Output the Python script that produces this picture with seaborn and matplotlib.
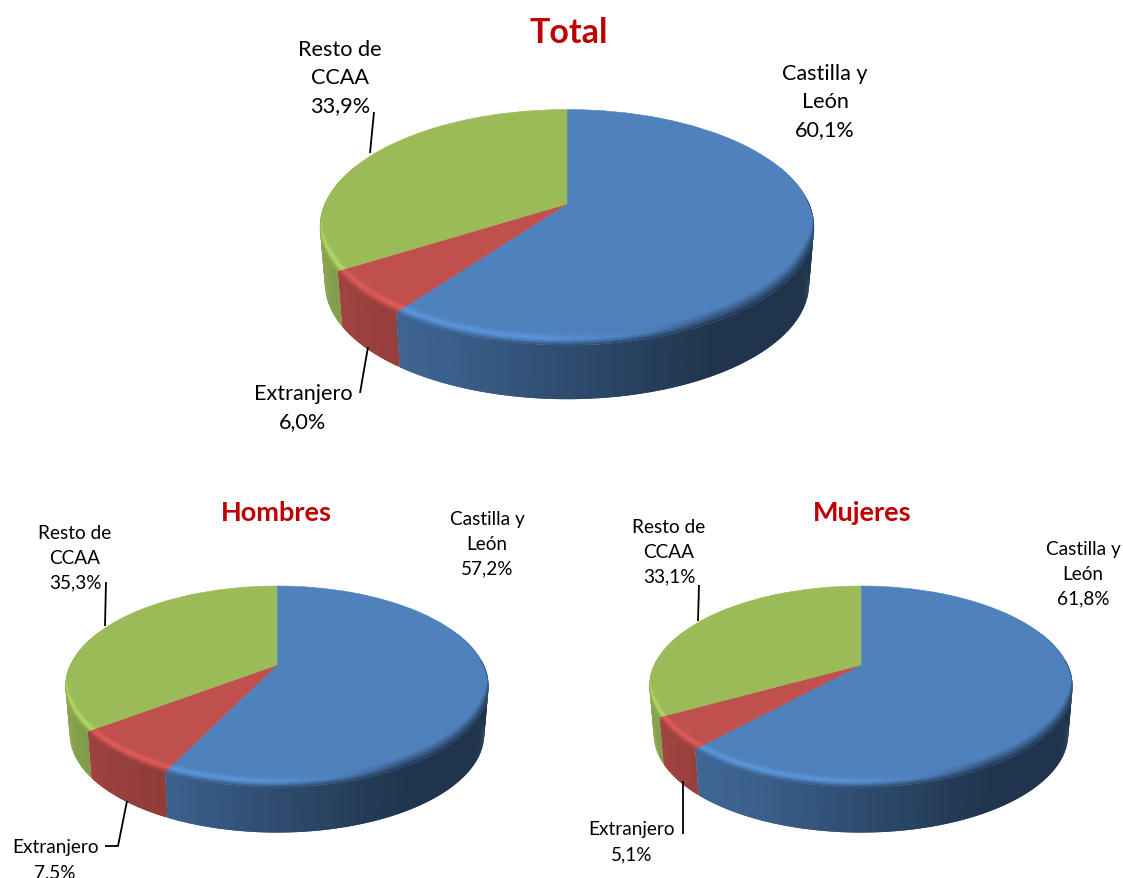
import numpy as np
import matplotlib
matplotlib.use("Agg")
import matplotlib.pyplot as plt
import matplotlib.transforms as mtransforms
from matplotlib.collections import PolyCollection
import seaborn as sns

categories = ["Castilla y\nLeón", "Extranjero", "Resto de\nCCAA"]
total_values = [60.1, 6.0, 33.9]
hombres_values = [57.2, 7.5, 35.3]
mujeres_values = [61.8, 5.1, 33.1]
titles = ["Total", "Hombres", "Mujeres"]
colors = ["#4F81BD", "#C0504D", "#9BBB59"]

sns.set_theme(style="white")
plt.rcParams["font.family"] = ["Lato", "DejaVu Sans"]
palette = np.array(sns.color_palette(colors))

W, H = 1123, 879


class Perspective(mtransforms.Transform):
    """Tilted disc: unit circle -> pixel coordinates of the axes."""
    input_dims = 2
    output_dims = 2
    is_separable = False
    has_inverse = False

    def __init__(self, cx, cy, up, down, half_width, dy=0.0, scale=1.0):
        super().__init__()
        self.k = (down - up) / (down + up)
        self.a = up * (1 + self.k)
        self.b = half_width * np.sqrt(1 - self.k ** 2)
        self.cx, self.cy, self.dy, self.scale = cx, cy, dy, scale

    def transform_non_affine(self, xy):
        xy = np.asarray(xy, dtype=float)
        d = 1 + self.k * xy[:, 1]
        return np.column_stack([
            self.cx + self.scale * self.b * xy[:, 0] / d,
            self.cy + self.dy - self.scale * self.a * xy[:, 1] / d,
        ])


def unit(theta, r=1.0):
    return np.column_stack([r * np.sin(theta), r * np.cos(theta)])


def wall_shade(x):
    return np.interp(x, [-1, -0.7, -0.4, 0.1, 0.5, 1], [0.88, 0.80, 0.74, 0.55, 0.41, 0.40])


def rim_peak(x):
    return np.interp(x, [-1, -0.1, 0.25, 0.5], [1.17, 1.17, 1.0, 0.72])


def draw_pie(ax, values, geom):
    top = Perspective(geom["cx"], geom["cy"], geom["up"], geom["down"], geom["hw"])
    low = Perspective(geom["cx"], geom["cy"], geom["up"], geom["down"], geom["hw"],
                      dy=geom["depth"], scale=0.98)

    fracs = np.asarray(values) / np.sum(values)
    edges = 2 * np.pi * np.concatenate([[0], np.cumsum(fracs)])

    walls, wall_cols = [], []
    for i, color in enumerate(palette):
        n = max(int((edges[i + 1] - edges[i]) * 90), 4)
        th = np.linspace(edges[i], edges[i + 1], n + 1)
        step = th[1] - th[0]
        for t0, t1 in zip(th[:-1], th[1:]):
            mid = (t0 + t1) / 2
            # each quad runs on under the next one so that no seams show
            pts = unit(np.array([t0, min(t1 + step, edges[i + 1])]))
            if np.cos(mid) < 0.35:
                a = top.transform_non_affine(pts)
                b = low.transform_non_affine(pts)
                walls.append([a[0], a[1], b[1], b[0]])
                wall_cols.append(np.clip(color * wall_shade(np.sin(mid)), 0, 1))
    ax.add_collection(PolyCollection(walls, facecolors=wall_cols, edgecolors="none",
                                     linewidths=0, zorder=1, clip_on=False))

    wedges, _ = ax.pie(values, colors=[tuple(c) for c in palette], startangle=90,
                       counterclock=False, radius=1.0, frame=False)
    for w, c in zip(wedges, palette):
        w.set_transform(top + ax.transData)
        w.set_edgecolor(c)
        w.set_linewidth(0.4)
        w.set_zorder(2)
        w.set_clip_on(False)

    # bevel along the front rim, cut by the slice it belongs to
    for i, color in enumerate(palette):
        lo, hi = edges[i] - 0.25, edges[i + 1] + 0.25
        n = max(int((hi - lo) * 90), 4)
        th = np.linspace(lo, hi, n + 1)
        step = th[1] - th[0]
        rims, rim_cols = [], []
        for t0, t1 in zip(th[:-1], th[1:]):
            mid = (t0 + t1) / 2
            x, y = np.sin(mid), np.cos(mid)
            fade = np.clip((0.05 - y) / 0.45, 0, 1)
            if fade <= 0:
                continue
            t1x = t1 + step
            levels = np.linspace(0, 1, 11)
            for l0, l1 in zip(levels[:-1], levels[1:]):
                p0 = top.transform_non_affine(unit(np.array([t0, t1x]), 1 - 0.012 * fade * (1 - l0)))
                p1 = top.transform_non_affine(unit(np.array([t0, t1x]), 1 - 0.012 * fade * (1 - l1)))
                p0[:, 1] -= geom["bevel"] * fade * (1 - l0)
                p1[:, 1] -= geom["bevel"] * fade * (1 - l1) - 0.4
                lm = (l0 + l1) / 2
                m = np.interp(lm, [0, 0.5, 0.8, 1], [1, rim_peak(x),
                              (rim_peak(x) + wall_shade(x)) / 2, wall_shade(x)])
                rims.append([p0[0], p0[1], p1[1], p1[0]])
                rim_cols.append(np.clip(color * m, 0, 1))
        if rims:
            pc = PolyCollection(rims, facecolors=rim_cols, edgecolors="none",
                                linewidths=0, zorder=3)
            ax.add_collection(pc)
            pc.set_clip_path(wedges[i])

    ax.set_aspect("auto")
    ax.set_xticks([])
    ax.set_yticks([])
    ax.patch.set_alpha(0)
    for s in ax.spines.values():
        s.set_visible(False)


def new_axes(box):
    l, t, r, b = box
    return fig.add_axes([l / W, 1 - b / H, (r - l) / W, (b - t) / H])


geoms = [
    dict(box=(0, 0, W, 470), cx=567, cy=205, up=94.5, down=141, hw=247, depth=57, bevel=10),
    dict(box=(0, 470, 560, H), cx=277, cy=666, up=79, down=122, hw=211.5, depth=48, bevel=9),
    dict(box=(560, 470, W, H), cx=861, cy=666, up=79, down=122, hw=211.5, depth=48, bevel=9),
]
series = [total_values, hombres_values, mujeres_values]
title_pos = [(569, 33), (276, 513), (862, 513)]
title_size = [24.5, 19.5, 19.5]
label_size = [15.6, 13.7, 13.7]
line_gap = [1.5, 1.56, 1.56]
label_pos = [
    [(825, 102), (303, 408.5), (340, 78)],
    [(487, 544), (55, 860), (75, 558)],
    [(1083, 574), (632, 842), (669, 552)],
]
leaders = [
    [[(368, 348), (360, 394)], [(374, 113), (370, 154)]],
    [[(127, 802), (118, 847), (105, 847)], [(106, 583), (105, 627)]],
    [[(683, 782), (683, 835)], [(699, 586), (698, 622)]],
]

fig = plt.figure(figsize=(W / 100, H / 100), dpi=100, facecolor="white")

for i, geom in enumerate(geoms):
    ax = new_axes(geom["box"])
    draw_pie(ax, series[i], geom)
    ax.text(*title_pos[i], titles[i], color="#C00000", fontsize=title_size[i],
            fontweight="bold", ha="center", va="center")
    for name, value, (x, y) in zip(categories, series[i], label_pos[i]):
        text = name + "\n" + f"{value:.1f}".replace(".", ",") + "%"
        ax.text(x, y, text, color="black", fontsize=label_size[i], ha="center",
                va="center", multialignment="center", linespacing=line_gap[i], zorder=5)
    for seg in leaders[i]:
        xs, ys = zip(*seg)
        ax.plot(xs, ys, color="black", lw=1.3, solid_capstyle="butt", zorder=6, clip_on=False)
    ax.set_xlim(geom["box"][0], geom["box"][2])
    ax.set_ylim(geom["box"][3], geom["box"][1])

fig.savefig("out.png", dpi=100, facecolor="white")
